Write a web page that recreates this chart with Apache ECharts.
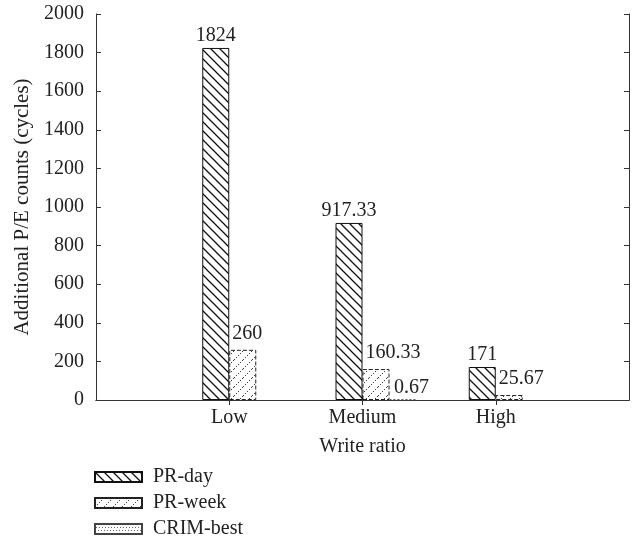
<!DOCTYPE html>
<html>
<head>
<meta charset="utf-8">
<script src="https://cdn.jsdelivr.net/npm/echarts@6/dist/echarts.min.js"></script>
<style>html,body{margin:0;padding:0;background:#fff;}#c{width:637px;height:544px;}</style>
</head>
<body>
<div id="c"></div>
<script>
var categories = ['', 'Low', 'Medium', 'High', ''];
var prDay = ['-', 1824, 917.33, 171, '-'];
var prWeek = ['-', 260, 160.33, 25.67, '-'];
var crimBest = ['-', '-', 0.67, '-', '-'];
var yTicks = [0, 200, 400, 600, 800, 1000, 1200, 1400, 1600, 1800, 2000];

function hatch(kind) {
  var s = 9;
  var c = document.createElement('canvas');
  c.width = s; c.height = s;
  var g = c.getContext('2d');
  g.fillStyle = '#fff';
  g.fillRect(0, 0, s, s);
  if (kind === 'back') {
    g.strokeStyle = '#111';
    g.lineWidth = 1.3;
    g.beginPath();
    g.moveTo(-1, -1); g.lineTo(s + 1, s + 1);
    g.moveTo(-1, s - 1); g.lineTo(1, s + 1);
    g.moveTo(s - 1, -1); g.lineTo(s + 1, 1);
    g.stroke();
  } else if (kind === 'fwdDot') {
    g.fillStyle = '#444';
    for (var i = 0; i < s; i += 2) {
      g.fillRect(s - 1 - i, i, 1, 1);
    }
  } else {
    g.fillStyle = '#666';
    for (var y = 0; y < s; y += 3) {
      for (var x = (y % 2); x < s; x += 3) g.fillRect(x, y, 1, 1);
    }
  }
  return c;
}

var font = "'Liberation Serif', 'DejaVu Serif', serif";
var txt = '#222';

var chart = echarts.init(document.getElementById('c'));
chart.setOption({
  animation: false,
  backgroundColor: '#fff',
  textStyle: { fontFamily: font, color: txt },
  grid: { left: 96, right: 8, top: 14, bottom: 144 },
  legend: {
    data: ['PR-day', 'PR-week', 'CRIM-best'],
    orient: 'vertical',
    left: 94,
    top: 467,
    padding: 0,
    itemWidth: 47,
    itemHeight: 10,
    itemGap: 6,
    icon: 'rect',
    textStyle: { fontFamily: font, fontSize: 20, color: txt, padding: [0, 0, 0, 6] }
  },
  xAxis: [{
    type: 'category',
    data: categories,
    boundaryGap: false,
    name: 'Write ratio',
    nameLocation: 'middle',
    nameGap: 37,
    nameTextStyle: { fontFamily: font, fontSize: 20, color: txt },
    axisLine: { lineStyle: { color: '#333', width: 1 } },
    axisTick: { inside: true, length: 5, lineStyle: { color: '#333' },
      interval: function (i) { return i >= 1 && i <= 3; } },
    axisLabel: { interval: 0, fontFamily: font, fontSize: 20, color: txt, margin: 8 },
    splitLine: { show: false }
  }, {
    type: 'category',
    data: categories,
    boundaryGap: false,
    position: 'top',
    axisLine: { lineStyle: { color: '#333', width: 1 } },
    axisTick: { inside: true, length: 5, lineStyle: { color: '#333' },
      interval: function (i) { return i >= 1 && i <= 3; } },
    axisLabel: { show: false },
    splitLine: { show: false }
  }],
  yAxis: [{
    type: 'value',
    min: 0, max: 2000, interval: 200,
    name: 'Additional P/E counts (cycles)',
    nameLocation: 'middle',
    nameGap: 58,
    nameTextStyle: { fontFamily: font, fontSize: 21, color: txt },
    axisLine: { show: true, lineStyle: { color: '#333', width: 1 } },
    axisTick: { show: true, inside: true, length: 5, lineStyle: { color: '#333' } },
    axisLabel: { fontFamily: font, fontSize: 20, color: txt, margin: 12,
      formatter: function (v) { return yTicks.indexOf(v) >= 0 ? String(v) : ''; } },
    splitLine: { show: false }
  }, {
    type: 'value',
    min: 0, max: 2000, interval: 200,
    position: 'right',
    axisLine: { show: true, lineStyle: { color: '#333', width: 1 } },
    axisTick: { show: true, inside: true, length: 5, lineStyle: { color: '#333' } },
    axisLabel: { show: false },
    splitLine: { show: false }
  }],
  series: [{
    name: 'spacer',
    type: 'bar',
    data: ['-', '-', '-', '-', '-'],
    barWidth: 27,
    barGap: '0%',
    silent: true
  }, {
    name: 'PR-day',
    type: 'bar',
    data: prDay,
    barWidth: 27,
    barGap: '0%',
    itemStyle: { color: { image: hatch('back'), repeat: 'repeat' }, borderColor: '#111', borderWidth: 1 },
    label: { show: true, position: 'top', distance: 2, fontFamily: font, fontSize: 20, color: txt }
  }, {
    name: 'PR-week',
    type: 'bar',
    data: prWeek,
    barWidth: 27,
    barGap: '0%',
    itemStyle: { color: { image: hatch('fwdDot'), repeat: 'repeat' }, borderColor: '#222', borderWidth: 1, borderType: [4, 2] },
    label: { show: true, position: [3, -6], align: 'left', verticalAlign: 'bottom', fontFamily: font, fontSize: 20, color: txt }
  }, {
    name: 'CRIM-best',
    type: 'bar',
    data: crimBest,
    barWidth: 27,
    barGap: '0%',
    itemStyle: { color: { image: hatch('dots'), repeat: 'repeat' }, borderColor: '#444', borderWidth: 1, borderType: [2, 2] },
    label: { show: true, position: [5, -2], align: 'left', verticalAlign: 'bottom', fontFamily: font, fontSize: 20, color: txt }
  }]
});
</script>
</body>
</html>
